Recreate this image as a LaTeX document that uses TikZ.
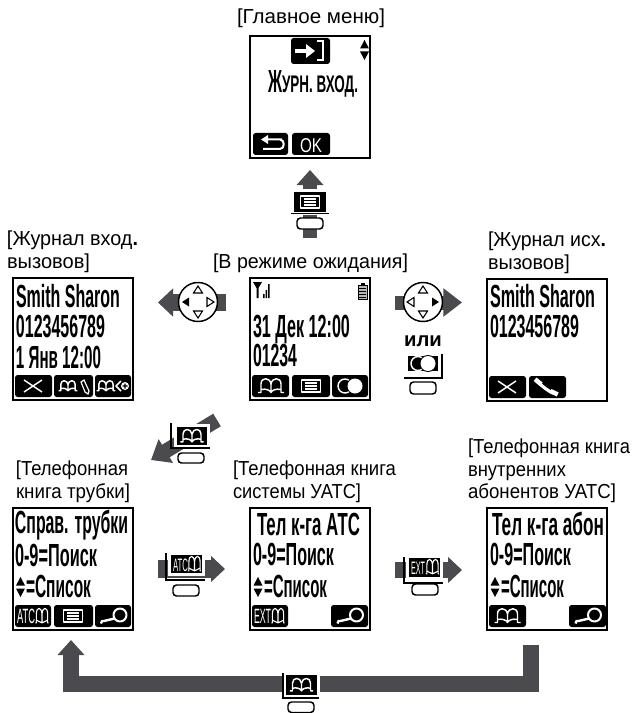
\documentclass[tikz,border=0pt]{standalone}
\usepackage{fontspec}
\usepackage{graphicx}
\setmainfont{Liberation Sans}
\usetikzlibrary{arrows.meta}
\definecolor{arrowgray}{HTML}{4B4B4F}
\newsavebox\lcdbox
\newcounter{lcdn}
\newcommand\lcdfont{\fontsize{24pt}{25pt}\selectfont\bfseries}
\newcommand\lcdsmall{\fontsize{15.5pt}{16pt}\selectfont}
\newcommand\lcdkey{\fontsize{13.5pt}{14pt}\selectfont}
\newcommand\lcdfit[5][black]{\stepcounter{lcdn}\node[lcdtext,text=#1,anchor=base west] (t\arabic{lcdn}) at (#2,#3) {\sbox\lcdbox{#5}\pgfmathsetmacro\sx{#4*0.75/\the\wd\lcdbox}\scalebox{\sx}[1]{\usebox\lcdbox}};}
\newcommand\lcd[4]{\lcdfit{#1}{#2}{#3}{\lcdfont #4}}
\newcommand\lab[4]{\lcdfit{#1}{#2}{#3}{\fontsize{15.2pt}{16pt}\selectfont #4}}
\newcommand\skey[2]{\fill[softkey] (#1,97) rectangle (#2,119);}
% icons: centre x, centre y, scale
\newcommand\icbook[3]{\begin{scope}[shift={(#1,#2)},scale=#3]
\draw[icon] (-13,6.5) -- (-10,6.5) -- (-10,-2) .. controls (-10,-9) and (-1,-9) .. (0,-2) .. controls (1,-9) and (10,-9) .. (10,-2) -- (10,6.5) -- (13,6.5);
\draw[icon] (0,-2) -- (0,6.5) (-10,3.5) .. controls (-5,2.5) and (-1,4) .. (0,6.5) .. controls (1,4) and (5,2.5) .. (10,3.5);
\end{scope}}
\newcommand\icbooknarrow[2]{\begin{scope}[shift={(#1,#2)},xscale=.56,yscale=1.05]
\draw[icon,line width=.85pt] (-12,6.5) -- (-10,6.5) -- (-10,-2) .. controls (-10,-9) and (-1,-9) .. (0,-2) .. controls (1,-9) and (10,-9) .. (10,-2) -- (10,6.5) -- (12,6.5);
\draw[icon,line width=.85pt] (0,-2) -- (0,6.5) (-10,4) -- (0,6.5) -- (10,4);
\end{scope}}
\newcommand\icmenu[2]{\begin{scope}[shift={(#1,#2)}]
\draw[icon] (-9.5,-6) rectangle (9.5,6);
\draw[icon,line width=.8pt] (-6,-3) -- (6,-3) (-6,0) -- (6,0) (-6,3) -- (6,3);
\end{scope}}
\newcommand\icmag[2]{\begin{scope}[shift={(#1,#2)}]
\draw[icon,line width=1.5pt] (7,-1) circle (6.5);
\draw[icon,line width=1.8pt] (-12,7.5) -- (-11,5) -- (-9,5) -- (1.5,2.5);
\end{scope}}
\newcommand\ichold[2]{\begin{scope}[shift={(#1,#2)}]
\draw[icon] (-5,0) circle (7);
\fill[black] (5,0) circle (8.5);
\fill[white] (5,0) circle (7.5);
\end{scope}}
\newcommand\icx[2]{\draw[icon] (#1-9,#2-6) -- (#1+9,#2+6) (#1-9,#2+6) -- (#1+9,#2-6);}
\newcommand\updown[2]{\fill[black] (#1,#2) -- (#1-4.5,#2+8.5) -- (#1+4.5,#2+8.5) -- cycle (#1-4.5,#2+11.5) -- (#1+4.5,#2+11.5) -- (#1,#2+20) -- cycle;}
% press-key symbol parts
\newcommand\keyrect[4]{\fill[white] (#1-3,#2-3) rectangle (#3+3,#4+3); \fill[black] (#1,#2) rectangle (#3,#4);}
\newcommand\pill[4]{\draw[pillshape] (#1,#2) rectangle (#3,#4);}
\newcommand\navpad[2]{\begin{scope}[shift={(#1,#2)}]
\draw[black,fill=white,line width=1.1pt] (0,0) circle (19.5);
\draw[black,line width=.8pt,fill=white] (0,-16) -- (-4.5,-9) -- (4.5,-9) -- cycle (0,16) -- (-4.5,9) -- (4.5,9) -- cycle;
\end{scope}}
\tikzset{
 x=0.75pt,y=-0.75pt,
 screenbox/.style={draw=black,line width=1.5pt,fill=white,minimum width=90pt,minimum height=91.5pt,inner sep=0,outer sep=0,rectangle},
 softkey/.style={fill=black,rounded corners=2pt},
 icon/.style={draw=white,line width=1.1pt,line join=round},
 lcdtext/.style={inner sep=0,outer sep=0},
 fatarrow/.style={draw=arrowgray,line join=miter},
 pillshape/.style={draw=black,line width=1.1pt,fill=white,rounded corners=2.6pt},
 keyline/.style={draw=black,line width=1pt},
}
\begin{document}
\begin{tikzpicture}
\useasboundingbox (0,0) rectangle (634,713);
% ---------- connectors (block arrows)
\coordinate (upA) at (310,238); \coordinate (upB) at (310,170);
\draw[fatarrow,line width=10.5pt,-{Triangle[length=11.25pt,width=19.5pt]}] (upA) -- (upB);
\coordinate (lfA) at (226,302.5); \coordinate (lfB) at (158,302.5);
\draw[fatarrow,line width=12.5pt,-{Triangle[length=11.25pt,width=20.5pt]}] (lfA) -- (lfB);
\coordinate (rtA) at (395,302.5); \coordinate (rtB) at (462,302.5);
\draw[fatarrow,line width=10.5pt,-{Triangle[length=14pt,width=20.5pt]}] (rtA) -- (rtB);
\coordinate (dgA) at (217,420); \coordinate (dgB) at (151,460);
\draw[fatarrow,line width=11pt,-{Triangle[length=13pt,width=20pt]}] (dgA) -- (dgB);
\coordinate (a1A) at (158,569); \coordinate (a1B) at (225,569);
\draw[fatarrow,line width=13pt,-{Triangle[length=10.5pt,width=19pt]}] (a1A) -- (a1B);
\coordinate (a2A) at (395,570); \coordinate (a2B) at (462,570);
\draw[fatarrow,line width=12pt,-{Triangle[length=10.5pt,width=19pt]}] (a2A) -- (a2B);
\coordinate (lpA) at (531,645); \coordinate (lpB) at (531,684); \coordinate (lpC) at (71,684); \coordinate (lpD) at (71,640);
\draw[fatarrow,line width=11.6pt,-{Triangle[length=11.25pt,width=19.5pt]}] (lpA) -- (lpB) -- (lpC) -- (lpD);

% ---------- labels
\lab{237}{24}{148}{[Главное меню]}
\lab{7}{245}{131}{[Журнал вход\textbf{.}}
\lab{7}{268}{83}{вызовов]}
\lab{213}{268}{195}{[В режиме ожидания]}
\lab{488}{246}{118}{[Журнал исх\textbf{.}}
\lab{488}{269}{82}{вызовов]}
\lab{16}{475}{112}{[Телефонная}
\lab{16}{498}{114}{книга трубки]}
\lab{233}{475}{163}{[Телефонная книга}
\lab{233}{498}{128}{системы УАТС]}
\lab{468}{453}{162}{[Телефонная книга}
\lab{468}{476}{98}{внутренних}
\lab{468}{498}{148}{абонентов УАТС]}

% ---------- main menu screen
\node[screenbox,anchor=north west] (sMain) at (250,36) {};
\begin{scope}[shift={(sMain.north west)}]
\fill[softkey] (41,2) rectangle (80,28);
\draw[white,line width=2.4pt] (45,15) -- (58,15);
\fill[white] (56,8) -- (65,15) -- (56,22) -- cycle;
\draw[white,line width=1.5pt] (67,5.5) -- (73,5.5) -- (73,24) -- (67,24);
\updown{114.5}{4}
\lcd{18}{57}{14}{Ж}
\lcdfit{32}{57}{76}{\fontsize{18pt}{20pt}\selectfont\bfseries УРН. ВХОД.}
\skey{3}{38}\skey{42}{80}
\draw[white,line width=1.5pt,line join=round] (32,103.5) -- (14,103.5) (30,103.5) .. controls (35,103.5) and (35,113) .. (30,113) -- (13,113);
\fill[white] (11,103.5) -- (18,99) -- (18,108) -- cycle;
\lcdfit[white]{50}{116}{22}{\fontsize{15pt}{16pt}\selectfont OK}
\end{scope}

% ---------- incoming log
\node[screenbox,anchor=north west] (sIn) at (13,278) {};
\begin{scope}[shift={(sIn.north west)}]
\lcd{3}{29}{104}{Smith Sharon}
\lcd{3}{59}{89}{0123456789}
\lcd{3}{90}{85}{1 Янв 12:00}
\skey{2}{39}\skey{41}{80}\skey{82}{118}
\icx{20}{108}
\icbook{55}{108}{.72}
\draw[white,line width=.9pt,fill=black] (68,104) -- (71,102) -- (76,113) -- (75,116) -- (72,114) -- cycle;
\icbook{93}{108}{.72}
\fill[white] (112,108) circle (4);
\fill[black] (111.3,105.5) rectangle (112.7,110.5) (109.5,107.3) rectangle (114.5,108.7);
\draw[icon] (108,103) -- (103,108) -- (108,113);
\end{scope}

% ---------- idle
\node[screenbox,anchor=north west] (sIdle) at (250,278) {};
\begin{scope}[shift={(sIdle.north west)}]
\fill[black] (3,4) -- (12,4) -- (8.5,10) -- (8.5,20) -- (6.5,20) -- (6.5,10) -- cycle;
\fill[black] (13,16) rectangle (14.5,20) (15.5,12) rectangle (17,20) (18,6) rectangle (19.5,20);
\draw[black,line width=.7pt,fill=gray!55] (108,7) rectangle (117,21);
\fill[black] (110.5,4.5) rectangle (114.5,7);
\draw[black,line width=.6pt] (109,10) -- (116,10) (109,13) -- (116,13) (109,16) -- (116,16) (109,19) -- (116,19);
\lcd{3}{59}{97}{31 Дек 12:00}
\lcd{3}{88}{44}{01234}
\skey{2}{39}\skey{42}{80}\skey{82}{118}
\icbook{21}{108}{1}
\icmenu{61}{108}
\ichold{100}{108}
\end{scope}

% ---------- outgoing log
\node[screenbox,anchor=north west] (sOut) at (487,279) {};
\begin{scope}[shift={(sOut.north west)}]
\lcd{3}{28}{105}{Smith Sharon}
\lcd{3}{58}{89}{0123456789}
\skey{2}{39}\skey{42}{79}
\icx{20}{108}
\draw[white,line width=2.4pt] (52,104) .. controls (56,108) and (61,112) .. (66,114);
\fill[white,rotate around={-40:(51,103)}] (47,100.5) rectangle (55,105);
\fill[white,rotate around={-25:(67,114)}] (63,111.5) rectangle (71,116);
\end{scope}

% ---------- handset phonebook
\node[screenbox,anchor=north west] (sHs) at (13,508) {};
\begin{scope}[shift={(sHs.north west)}]
\lcd{2}{25}{113}{Справ. трубки}
\lcd{2}{58}{82}{0-9=Поиск}
\updown{7.5}{69}
\lcd{13}{89}{65}{=Список}
\skey{2}{38}\skey{41}{80}\skey{82}{118}
\lcdfit[white]{4}{115}{18}{\lcdsmall ATC}
\icbooknarrow{29}{108}
\icmenu{60}{108}
\icmag{100}{108}
\end{scope}

% ---------- PBX phonebook
\node[screenbox,anchor=north west] (sPbx) at (250,508) {};
\begin{scope}[shift={(sPbx.north west)}]
\lcd{7}{27}{103}{Тел к-га АТС}
\lcd{3}{57}{81}{0-9=Поиск}
\updown{8}{69}
\lcd{14}{89}{63}{=Список}
\skey{2}{38}\skey{81}{118}
\lcdfit[white]{4}{115}{17}{\lcdsmall EXT}
\icbooknarrow{28}{108}
\icmag{99.5}{108}
\end{scope}

% ---------- extension phonebook
\node[screenbox,anchor=north west] (sExt) at (487,508) {};
\begin{scope}[shift={(sExt.north west)}]
\lcd{5}{27}{112}{Тел к-га абон}
\lcd{3}{57}{81}{0-9=Поиск}
\updown{8}{69}
\lcd{14}{89}{63}{=Список}
\skey{2}{39}\skey{82}{119}
\icbook{20.5}{108}{1}
\icmag{100.5}{108}
\end{scope}

% ---------- menu key
\keyrect{294}{192}{326}{212}
\icmenu{310}{202}
\draw[keyline] (291,213.5) -- (329,213.5);
\pill{297}{218}{323}{229}
% ---------- nav pads
\navpad{198}{302}
\fill[black] (182,302) -- (189,297.5) -- (189,306.5) -- cycle;
\draw[black,line width=.8pt] (214,302) -- (207,297.5) -- (207,306.5) -- cycle;
\navpad{423}{302}
\draw[black,line width=.8pt] (407,302) -- (414,297.5) -- (414,306.5) -- cycle;
\fill[black] (439,302) -- (432,297.5) -- (432,306.5) -- cycle;
% ---------- or + hold key
\node[font=\fontsize{15.2pt}{16pt}\selectfont\bfseries,inner sep=0,anchor=base] (lOr) at (423,346) {или};
\fill[black] (408,356) rectangle (438,371);
\ichold{423}{363.5}
\draw[keyline] (442,354) -- (442,378) -- (404,378);
\pill{410}{382}{436}{394}
% ---------- diagonal phonebook key
\keyrect{177}{427}{207}{445}
\icbook{192}{436}{.9}
\draw[keyline] (171,423) -- (171,448) -- (210,448);
\pill{178}{453}{204}{463}
% ---------- ATC key
\keyrect{171}{555}{202}{573}
\lcdfit[white]{173}{571}{15}{\lcdkey ATC}
\icbooknarrow{194.5}{564}
\draw[keyline] (166,553) -- (166,580) -- (205,580);
\pill{173}{585}{199}{596}
% ---------- EXT key
\keyrect{409}{558}{440}{577}
\lcdfit[white]{411}{574.5}{14}{\lcdkey EXT}
\icbooknarrow{432.5}{567}
\draw[keyline] (404,557) -- (404,583) -- (443,583);
\pill{412}{584}{438}{595}
% ---------- bottom book key
\keyrect{286}{675}{317}{695}
\icbook{301.5}{685}{.9}
\draw[keyline] (283,673) -- (283,698) -- (319,698);
\pill{288}{702}{314}{712.5}
\end{tikzpicture}
\end{document}
